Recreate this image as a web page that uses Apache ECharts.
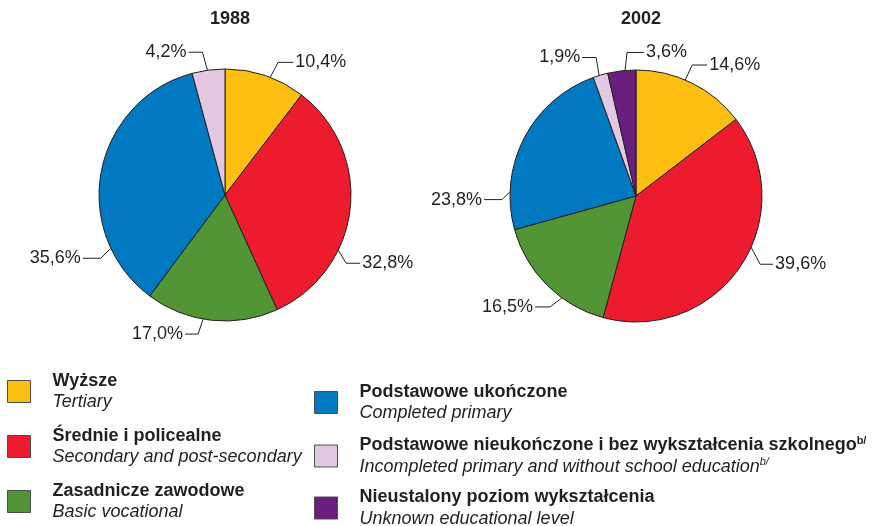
<!DOCTYPE html>
<html>
<head>
<meta charset="utf-8">
<script src="https://cdn.jsdelivr.net/npm/echarts@6/dist/echarts.min.js"></script>
<style>
  html, body { margin: 0; padding: 0; background: #fff; }
  #chart { width: 887px; height: 526px; }
</style>
</head>
<body>
<div id="chart"></div>
<script>
// dane
const years = ['1988', '2002']
const namesPl = [
  'Wyższe',
  'Średnie i policealne',
  'Zasadnicze zawodowe',
  'Podstawowe ukończone',
  'Podstawowe nieukończone i bez wykształcenia szkolnego',
  'Nieustalony poziom wykształcenia',
]
const namesEn = [
  'Tertiary',
  'Secondary and post-secondary',
  'Basic vocational',
  'Completed primary',
  'Incompleted primary and without school education',
  'Unknown educational level',
]
const share1988 = [10.4, 32.8, 17.0, 35.6, 4.2, null]
const share2002 = [14.6, 39.6, 16.5, 23.8, 1.9, 3.6]

const colors = ['#FDBE12', '#EC1C2E', '#529535', '#0079C0', '#E2C8E0', '#6A1F7E']
const ink = '#231F20'
const font = 'Liberation Sans, Arial, sans-serif'

// położenie wykresów i odnośników (kąt zaczepienia, przesunięcie łokcia, długość poziomej kreski)
const centers = [[225, 195], [636, 196]]
const R = 126
const spots = [
  [[21, 8, -15, 15], [116, 8, 13, 14], [190, -5, 15, -13], [245, -10, 10, -18], [352, -5, -18, -14]],
  [[23, 7, -15, 15], [114, 9, 17, 13], [216, -12, 9, -15], [272, -8, 8, -18], [343, -3, -18, -14], [355, 2, -18, 17]],
]

function pieData(values) {
  const out = []
  values.forEach((v, i) => {
    if (v == null) return
    out.push({ name: namesPl[i], value: v, itemStyle: { color: colors[i] } })
  })
  return out
}

function makeLayout(si) {
  return function (params) {
    const s = spots[si][params.dataIndex]
    const c = centers[si]
    const a = s[0] * Math.PI / 180
    const ax = c[0] + R * Math.sin(a)
    const ay = c[1] - R * Math.cos(a)
    const ex = ax + s[1]
    const ey = ay + s[2]
    const hx = ex + s[3]
    return {
      x: hx + (s[3] > 0 ? 2 : -2),
      y: ey,
      align: s[3] > 0 ? 'left' : 'right',
      verticalAlign: 'middle',
      labelLinePoints: [[ax, ay], [ex, ey], [hx, ey]],
    }
  }
}

function legendText(name) {
  const i = namesPl.indexOf(name)
  if (i === 4) {
    return '{b|' + namesPl[i] + '}{bs|b/}\n{i|' + namesEn[i] + '}{is|b/}'
  }
  return '{b|' + namesPl[i] + '}\n{i|' + namesEn[i] + '}'
}

const rich = {
  b: { fontFamily: font, fontSize: 18, fontWeight: 'bold', color: ink, lineHeight: 21, padding: [0, 0, 0, 17] },
  i: { fontFamily: font, fontSize: 18, fontStyle: 'italic', color: ink, lineHeight: 21, padding: [0, 0, 0, 17] },
  bs: { fontFamily: font, fontSize: 11, fontWeight: 'bold', color: ink, verticalAlign: 'top', lineHeight: 21 },
  is: { fontFamily: font, fontSize: 11, fontStyle: 'italic', color: ink, verticalAlign: 'top', lineHeight: 21 },
}

const legendBase = {
  orient: 'vertical',
  icon: 'rect',
  itemWidth: 23,
  itemHeight: 22,
  padding: 0,
  height: 200,
  selectedMode: false,
  itemStyle: { borderColor: '#4d4d4d', borderWidth: 1 },
  formatter: legendText,
  textStyle: { rich: rich },
}

const chart = echarts.init(document.getElementById('chart'), null, { renderer: 'canvas' })

const option = {
  backgroundColor: '#fff',
  animation: false,
  title: years.map((y, k) => ({
    text: y,
    left: centers[k][0],
    top: 5,
    textAlign: 'center',
    textStyle: { fontFamily: font, fontSize: 18, fontWeight: 'bold', color: ink },
  })),
  legend: [
    Object.assign({}, legendBase, { left: 7, top: 372, itemGap: 16, data: namesPl.slice(0, 3) }),
    Object.assign({}, legendBase, { left: 314, top: 383, itemGap: 13, data: namesPl.slice(3) }),
  ],
  series: [share1988, share2002].map((vals, k) => ({
    name: years[k],
    type: 'pie',
    center: centers[k],
    radius: R,
    startAngle: 90,
    clockwise: true,
    avoidLabelOverlap: false,
    itemStyle: { borderColor: ink, borderWidth: 1 },
    emphasis: { disabled: true },
    label: {
      show: true,
      position: 'outside',
      fontFamily: font,
      fontSize: 18,
      color: ink,
      formatter: (p) => p.value.toFixed(1).replace('.', ',') + '%',
    },
    labelLine: { show: true, lineStyle: { color: ink, width: 1 } },
    labelLayout: makeLayout(k),
    data: pieData(vals),
  })),
}

chart.setOption(option)
</script>
</body>
</html>
